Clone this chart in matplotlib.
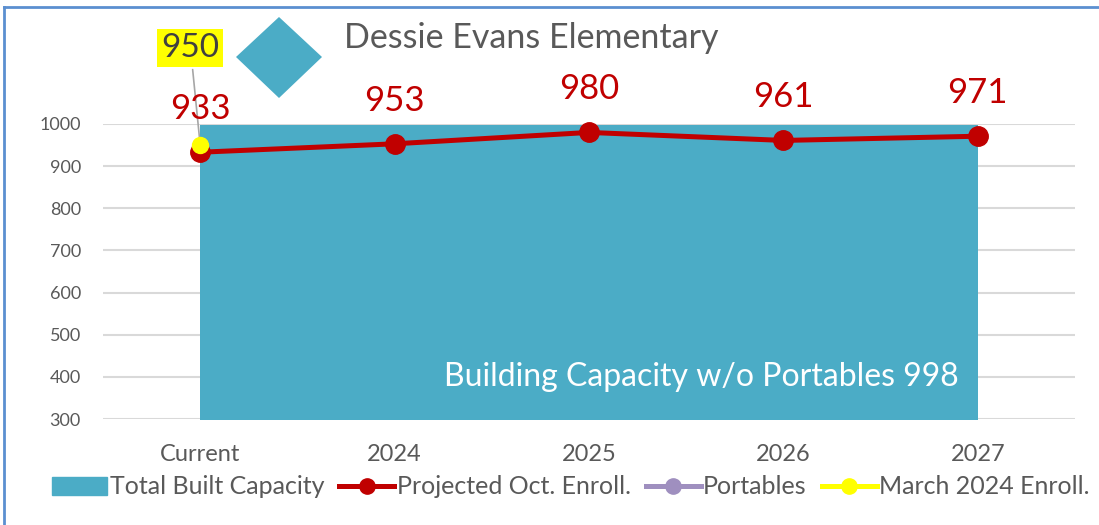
import numpy as np
import matplotlib
matplotlib.use("Agg")
from matplotlib import pyplot as plt
from matplotlib.patches import Polygon, Patch
from matplotlib.lines import Line2D

plt.rcParams['font.family'] = ['Lato', 'DejaVu Sans']

# data
years = ["Current", "2024", "2025", "2026", "2027"]
capacity = [998, 998, 998, 998, 998]
projected = [933, 953, 980, 961, 971]
portables = []
march_enroll = [950]

teal = "#4BACC6"
red = "#C00000"
purple = "#9F8FBF"
yellow = "#FFFF00"
gray = "#595959"

W, H = 1099, 525


def fx(px):
    return px / W


def fy(py):
    return 1 - py / H


fig = plt.figure(figsize=(W / 100, H / 100), dpi=100)
ax = fig.add_axes([fx(103), fy(419), fx(1075) - fx(103), fy(124) - fy(419)])

x = np.arange(len(years))
ax.fill_between(x, capacity, 0, color=teal, linewidth=0, zorder=2)
ax.plot(x, projected, color=red, lw=3.6, marker="o", markersize=14, zorder=4, clip_on=False)
ax.plot(x[:len(march_enroll)], march_enroll, color=yellow, lw=3.6, marker="o", markersize=11.5,
        linestyle="none", zorder=5, clip_on=False)

ax.set_xlim(-0.5, len(years) - 0.5)
ax.set_ylim(300, 1000)
ax.set_yticks(range(300, 1001, 100))
ax.set_xticks(x)
ax.set_xticklabels(years)
ax.grid(axis="y", color="#D9D9D9", lw=1.5, zorder=0)
ax.set_axisbelow(True)
for s in ax.spines.values():
    s.set_visible(False)
ax.tick_params(axis="x", length=0, pad=18, labelsize=17, labelcolor=gray)
ax.tick_params(axis="y", length=0, pad=16, labelsize=13, labelcolor=gray)

# data labels
for i, v in enumerate(projected):
    ax.annotate(str(v), (x[i], v), xytext=(0, 31), textcoords="offset points",
                ha="center", va="center", fontsize=25, color=red, zorder=6, annotation_clip=False)

ax.annotate(str(march_enroll[0]), (x[0], march_enroll[0]), xytext=(-7, 70), textcoords="offset points",
            ha="center", va="center", fontsize=24, color="#404040", annotation_clip=False,
            bbox=dict(boxstyle="square,pad=0.12", fc=yellow, ec="none"),
            arrowprops=dict(arrowstyle="-", color="#A6A6A6", lw=1.2, shrinkA=2, shrinkB=0))

ax.text(3.9, 400, "Building Capacity w/o Portables " + str(capacity[0]), ha="right", va="center",
        fontsize=23, color="white", zorder=6)

# title and decorative diamond
fig.text(fx(531), fy(38), "Dessie Evans Elementary", ha="center", va="center", fontsize=24.5, color=gray)
fig.add_artist(Polygon([(fx(236), fy(57)), (fx(279), fy(17)), (fx(322), fy(57)), (fx(279), fy(98))],
                       closed=True, transform=fig.transFigure, fc=teal, ec="none"))

# frame edges visible in the crop
fig.add_artist(Line2D([fx(4), fx(1099)], [fy(7), fy(7)], transform=fig.transFigure, color="#5B8FD0", lw=2))
fig.add_artist(Line2D([fx(4), fx(4)], [fy(7), 0], transform=fig.transFigure, color="#5B8FD0", lw=2))

handles = [
    Patch(color=teal, label="Total Built Capacity"),
    Line2D([], [], color=red, lw=3.6, marker="o", markersize=11, label="Projected Oct. Enroll."),
    Line2D([], [], color=purple, lw=3.6, marker="o", markersize=11, label="Portables"),
    Line2D([], [], color=yellow, lw=3.6, marker="o", markersize=11, label="March 2024 Enroll."),
]
leg = fig.legend(handles=handles, loc="center", bbox_to_anchor=(fx(571), fy(487)), ncol=4, frameon=False,
                 fontsize=18, handlelength=2.2, handletextpad=0.1, columnspacing=0.6, labelcolor=gray)

fig.savefig("out.png", dpi=100)
